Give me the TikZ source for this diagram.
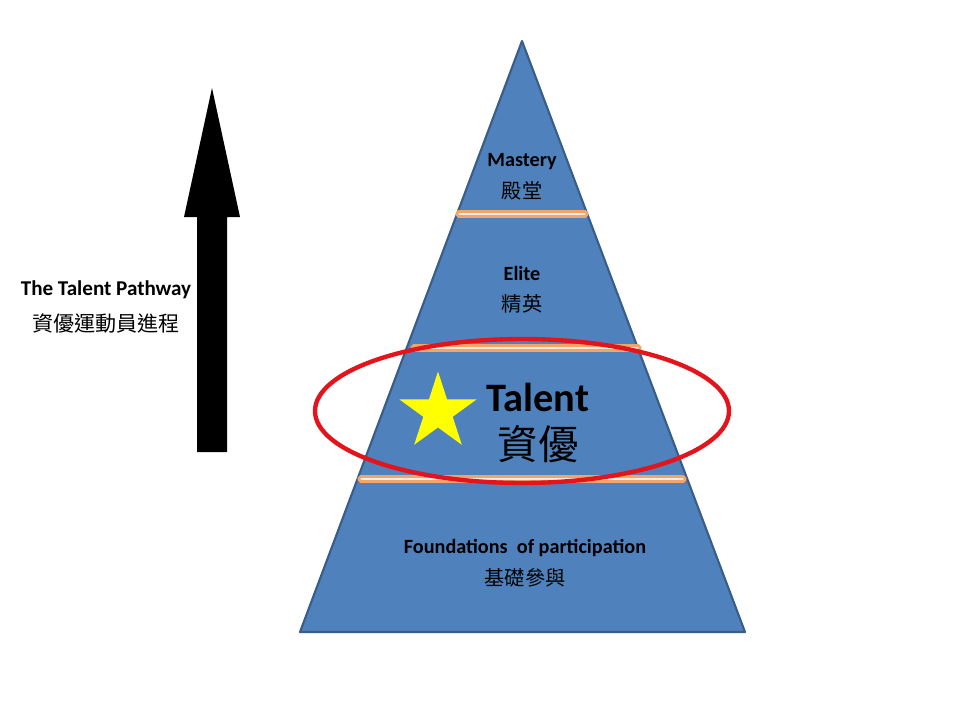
\documentclass[tikz,border=0pt]{standalone}
\usepackage{fontspec}
\setmainfont{Carlito}
\newfontfamily\cjk{Noto Sans CJK TC}
\usetikzlibrary{shapes.geometric,positioning}
\definecolor{pyrfill}{RGB}{79,129,189}
\definecolor{pyrline}{RGB}{56,93,138}
\definecolor{bandline}{RGB}{242,165,105}
\definecolor{bandfill}{RGB}{253,236,222}
\definecolor{ringred}{RGB}{228,20,28}
\definecolor{staryellow}{RGB}{255,255,0}
\newcommand{\tierlabel}[2]{\textbf{#1}\\[4pt]{\cjk #2}}

\begin{document}
\begin{tikzpicture}[
    x=0.02cm, y=-0.02cm,
    pyr/.style={fill=pyrfill, draw=pyrline, line width=1.2pt, line join=round},
    band/.style={draw=bandline, fill=bandfill, line width=1.5pt, rounded corners=1pt},
    tierbox/.style={align=center, inner sep=0pt, font=\fontsize{11.5}{14}\selectfont},
    bigbox/.style={align=center, inner sep=0pt, font=\fontsize{23}{27}\selectfont},
    ring/.style={draw=ringred, line width=2.5pt},
    starbox/.style={star, star points=5, star point ratio=2.618, fill=staryellow,
                    minimum size=1.62cm, inner sep=0pt}
]
\useasboundingbox (0,0) rectangle (960,720);

% pyramid
\coordinate (apex) at (522,41);
\coordinate (bl) at (300,632);
\coordinate (br) at (745,632);
\filldraw[pyr] (apex) -- (br) -- (bl) -- cycle;

% tier dividers
\draw[band] (457,211.5) rectangle (587,216.5);
\draw[band] (412,345.5) rectangle (640,350.5);
\draw[band] (359,476.5) rectangle (685,481.5);

% tier labels
\node[tierbox] (mastery) at (522,177) {\tierlabel{Mastery}{殿堂}};
\node[tierbox] (elite) at (522,290) {\tierlabel{Elite}{精英}};
\node[bigbox] (talent) at (538,423) {\textbf{Talent}\\[0pt]{\cjk 資優}};
\node[tierbox] (found) at (525,563) {\tierlabel{Foundations\ \ of participation}{基礎參與}};
\node[starbox] (star) at (438,412) {};

% highlight
\draw[ring] (522,411) ellipse [x radius=207, y radius=72];

% pathway arrow
\fill[black] (212,88) -- (240,217) -- (227,217) -- (227,452)
  -- (197,452) -- (197,217) -- (184,217) -- cycle;
\node[tierbox, font=\fontsize{12}{14}\selectfont] (pathway) at (106,307)
  {\textbf{The Talent\ Pathway}\\[6pt]{\cjk 資優運動員進程}};
\end{tikzpicture}
\end{document}
